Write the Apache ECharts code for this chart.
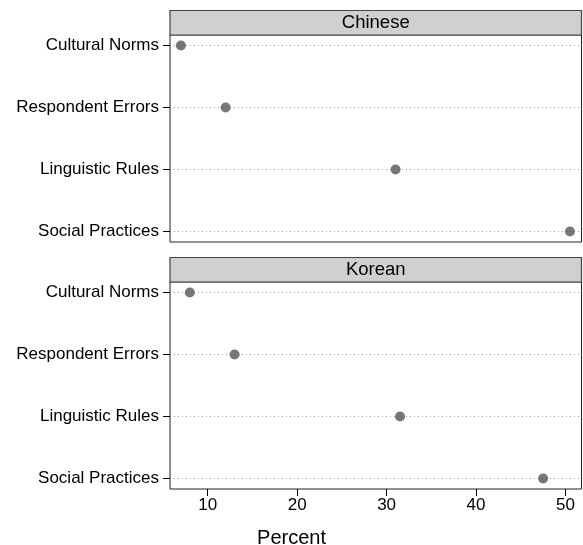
<!DOCTYPE html>
<html>
<head>
<meta charset="utf-8">
<script src="https://cdn.jsdelivr.net/npm/echarts@6/dist/echarts.min.js"></script>
<style>
  html, body { margin: 0; padding: 0; background: #fff; }
  #chart { width: 583px; height: 545px; }
</style>
</head>
<body>
<div id="chart"></div>
<script>
// categories top to bottom
const categories = ['Cultural Norms', 'Respondent Errors', 'Linguistic Rules', 'Social Practices'];
const panels = ['Chinese', 'Korean'];
const chineseValues = [7, 12, 31, 50.5];
const koreanValues = [8, 13, 31.5, 47.5];
const xTicks = [10, 20, 30, 40, 50];

const font = 'Liberation Sans, Arial, Helvetica, sans-serif';
const chart = echarts.init(document.getElementById('chart'));

// panel layout
const left = 170, width = 411.5;
const panelTops = [35, 282];
const panelHeight = 207;
const stripHeight = 24.5;

function yAxisFor(i) {
  return {
    type: 'value',
    gridIndex: i,
    min: 0.83,
    max: 4.17,
    inverse: true,
    axisLine: { show: false },
    axisTick: {
      show: true, length: 7, inside: false,
      customValues: [1, 2, 3, 4],
      lineStyle: { color: '#000' }
    },
    axisLabel: {
      customValues: [1, 2, 3, 4],
      formatter: v => categories[v - 1],
      color: '#000', fontSize: 17, fontFamily: font, margin: 11
    },
    splitLine: {
      show: true,
      lineStyle: { color: '#999', type: [1, 3], width: 1 }
    }
  };
}

function xAxisFor(i) {
  const bottom = i === 1;
  return {
    type: 'value',
    gridIndex: i,
    min: 5.78,
    max: 51.79,
    axisLine: { show: false },
    axisTick: {
      show: bottom, length: 7,
      customValues: xTicks,
      lineStyle: { color: '#000' }
    },
    axisLabel: {
      show: bottom,
      customValues: xTicks,
      color: '#000', fontSize: 17, fontFamily: font, margin: 8
    },
    splitLine: { show: false }
  };
}

const graphics = [];
panels.forEach((name, i) => {
  const top = panelTops[i] - stripHeight;
  graphics.push({
    type: 'rect',
    shape: { x: left, y: top, width: width, height: stripHeight },
    style: { fill: '#d0d0d0', stroke: '#444', lineWidth: 1.2 },
    z: 10
  });
  graphics.push({
    type: 'text',
    x: left + width / 2,
    y: top + stripHeight / 2,
    style: {
      text: name, fill: '#000', fontSize: 18.5, fontFamily: font,
      align: 'center', verticalAlign: 'middle'
    },
    z: 11
  });
});

const option = {
  animation: false,
  backgroundColor: '#fff',
  title: {
    text: 'Percent',
    left: 'center',
    top: 523,
    textStyle: { color: '#000', fontSize: 20, fontWeight: 'normal', fontFamily: font }
  },
  grid: panelTops.map(t => ({
    left: left,
    top: t,
    width: width,
    height: panelHeight,
    show: true,
    borderColor: '#222',
    borderWidth: 1,
    backgroundColor: 'transparent'
  })),
  xAxis: [xAxisFor(0), xAxisFor(1)],
  yAxis: [yAxisFor(0), yAxisFor(1)],
  graphic: graphics,
  series: [chineseValues, koreanValues].map((vals, i) => ({
    name: panels[i],
    type: 'scatter',
    xAxisIndex: i,
    yAxisIndex: i,
    symbol: 'circle',
    symbolSize: 10,
    itemStyle: { color: '#555' },
    data: vals.map((v, j) => [v, j + 1])
  }))
};
chart.setOption(option);
</script>
</body>
</html>
